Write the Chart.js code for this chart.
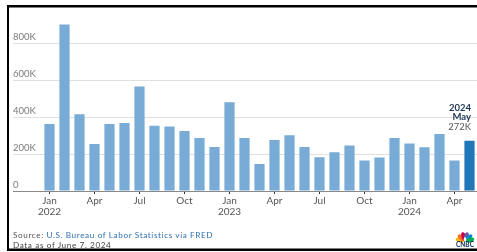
<!DOCTYPE html>
<html><head><meta charset="utf-8">
<script src="https://cdn.jsdelivr.net/npm/chart.js@4"></script>
<style>
html,body{margin:0;padding:0;background:#fff;}
#wrap{position:relative;width:477px;height:252px;overflow:hidden;}
canvas{position:absolute;left:0;top:0;}
.note{position:absolute;left:13px;font-family:Lato,"Open Sans",sans-serif;font-size:8.2px;letter-spacing:0.6px;white-space:nowrap;line-height:9px;color:#555;}
.note a{color:#2f6fb3;text-decoration:none;}
</style></head>
<body><div id="wrap"><canvas id="c" width="477" height="252"></canvas>
<div class="note" style="top:231px">Source: <a>U.S. Bureau of Labor Statistics via FRED</a></div>
<div class="note" style="top:240.5px;color:#444">Data as of June 7, 2024</div>
</div>
<script>
const months = ['Jan 2022','Feb 2022','Mar 2022','Apr 2022','May 2022','Jun 2022','Jul 2022','Aug 2022','Sep 2022','Oct 2022','Nov 2022','Dec 2022',
  'Jan 2023','Feb 2023','Mar 2023','Apr 2023','May 2023','Jun 2023','Jul 2023','Aug 2023','Sep 2023','Oct 2023','Nov 2023','Dec 2023',
  'Jan 2024','Feb 2024','Mar 2024','Apr 2024','May 2024'];
// nonfarm payroll change, thousands
const payrolls = [363,902,416,255,363,368,567,354,349,325,287,238,
  481,287,146,276,302,238,183,210,246,165,181,287,
  257,237,309,165,272];
const yTickValues = [0,200,400,600,800];
const xTickMonths = ['Jan','Apr','Jul','Oct'];
const latestLabel = ['2024','May','272K'];

const lightBlue = '#78abd6', darkBlue = '#2176b8';
const FONT = 'Lato, "Open Sans", sans-serif';

const frame = {
  id:'frame',
  afterDraw(chart){
    const c = chart.ctx; c.save(); c.fillStyle = '#000';
    c.fillRect(7,5,470,2.5); c.fillRect(7,5,2,246); c.fillRect(7,248.5,470,2.5);
    c.restore();
  }
};
const annot = {
  id:'annot',
  afterDatasetsDraw(chart){
    const meta = chart.getDatasetMeta(0);
    const el = meta.data[meta.data.length-1];
    const c = chart.ctx; c.save();
    c.textAlign = 'right'; c.textBaseline = 'middle';
    const x = el.x + 1.5;
    c.fillStyle = '#1c3554';
    c.font = 'bold 9.5px ' + FONT;
    c.fillText(latestLabel[0], x, el.y - 33);
    c.fillText(latestLabel[1], x, el.y - 23.5);
    c.fillStyle = '#555'; c.font = '9.5px ' + FONT;
    c.fillText(latestLabel[2], x, el.y - 13.5);
    c.restore();
  }
};
const logo = {
  id:'logo',
  afterDraw(chart){
    const c = chart.ctx; c.save();
    const cx = 465, cy = 241.5;
    const cols = ['#fcb711','#f37021','#cc004c','#6460aa','#0089d0','#0db14b'];
    for (let i=0;i<6;i++){
      const a = -Math.PI + (i+0.5)*Math.PI/6;
      c.save(); c.translate(cx,cy); c.rotate(a);
      c.beginPath(); c.ellipse(5.3,0,4.3,2.2,0,0,Math.PI*2);
      c.fillStyle = cols[i]; c.fill(); c.restore();
    }
    c.beginPath(); c.ellipse(cx,cy-2,1.3,2.5,0,0,Math.PI*2); c.fillStyle='#fff'; c.fill();
    c.fillStyle = '#0b2550'; c.font = 'bold 6.5px ' + FONT;
    c.textAlign = 'center'; c.textBaseline = 'middle';
    c.fillText('CNBC', cx, 245);
    c.restore();
  }
};

new Chart(document.getElementById('c'), {
  type:'bar',
  data:{
    labels: months,
    datasets:[{
      data: payrolls,
      backgroundColor: payrolls.map((v,i)=> i===payrolls.length-1 ? darkBlue : lightBlue),
      borderWidth:0,
      categoryPercentage:1, barPercentage:0.68
    }]
  },
  options:{
    responsive:false, animation:false,
    layout:{padding:{left:13,right:0,top:6.5,bottom:0}},
    plugins:{legend:{display:false},tooltip:{enabled:false}},
    scales:{
      x:{
        afterFit(s){ s.height = 61; },
        border:{display:false},
        grid:{offset:false, drawOnChartArea:false, drawTicks:true, tickLength:3, lineWidth:1,
          color(ctx){ const l = months[ctx.index]||''; return xTickMonths.includes(l.split(' ')[0]) ? '#333' : 'rgba(0,0,0,0)'; }},
        ticks:{autoSkip:false, maxRotation:0, padding:2, color:'#555',
          font:{family:FONT,size:10,lineHeight:1.05},
          callback(v,i){ const [m,y] = months[i].split(' ');
            if (!xTickMonths.includes(m)) return '';
            return m==='Jan' ? [m,y] : m; }}
      },
      y:{
        min:0, max:1000,
        afterFit(s){ s.width = 29; },
        afterBuildTicks(s){ s.ticks = yTickValues.map(v=>({value:v})); },
        border:{display:false},
        grid:{drawTicks:true, tickLength:29, lineWidth:1,
          color(ctx){ return ctx.tick && ctx.tick.value===0 ? '#8a8a8a' : '#e0e0e0'; }},
        ticks:{crossAlign:'far', labelOffset:-6, color:'#7a7a7a', padding:0,
          font:{family:FONT,size:9.5},
          callback(v){ return v===0 ? '0' : v + 'K'; }}
      }
    }
  },
  plugins:[annot, logo, frame]
});
</script>
</body></html>
